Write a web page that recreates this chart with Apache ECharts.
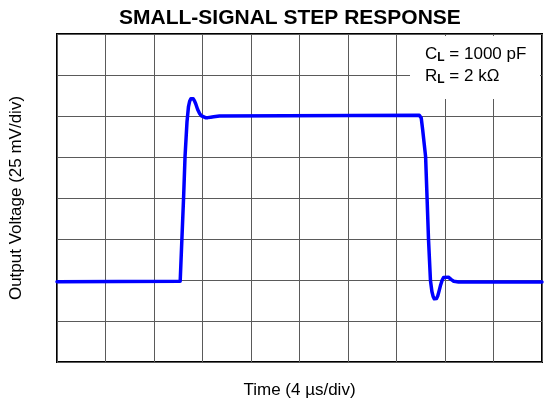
<!DOCTYPE html>
<html lang="en">
<head>
  <meta charset="UTF-8">
  <title>Small-signal step response</title>
  <script src="https://fastly.jsdelivr.net/npm/echarts@6/dist/echarts.min.js"></script>
  <style>
    html, body { margin: 0; padding: 0; background: #fff; }
  </style>
</head>
<body>
<div id="step_plot" style="width: 544px;height:404px;"></div>
<script type="text/javascript">
  // time in divisions (4 us/div), voltage in divisions (25 mV/div)
  var timeDiv = [0, 2.54, 2.575, 2.61, 2.64, 2.68, 2.71, 2.735, 2.76, 2.785, 2.81, 2.835, 2.86, 2.90, 2.94, 2.97, 3.01, 3.06, 3.11, 3.17, 3.23, 3.35,
                 7.47, 7.51, 7.54, 7.60, 7.63, 7.66, 7.70, 7.73, 7.755, 7.78, 7.80, 7.825, 7.85, 7.88, 7.91, 7.94, 7.97, 8.01, 8.07, 8.13, 8.18, 8.28, 10];
  var voltDiv = [1.96, 1.97, 2.99, 4.01, 5.01, 5.85, 6.22, 6.36, 6.42, 6.44, 6.42, 6.37, 6.30, 6.16, 6.06, 6.01, 5.975, 5.96, 5.96, 5.97, 5.98, 6.0,
                 6.02, 5.95, 5.66, 5.01, 4.01, 2.99, 1.99, 1.72, 1.60, 1.54, 1.53, 1.55, 1.61, 1.74, 1.88, 1.99, 2.06, 2.09, 2.07, 2.01, 1.97, 1.95, 1.95];

  var titleText = 'SMALL-SIGNAL STEP RESPONSE';
  var xLabel = 'Time (4 \u00b5s/div)';
  var yLabel = 'Output Voltage (25 mV/div)';
  var noteLines = [['C', 'L', ' = 1000 pF'], ['R', 'L', ' = 2 k\u03a9']];

  var data = timeDiv.map(function(t, i) { return [t, voltDiv[i]]; });

  var myChart = echarts.init(document.getElementById('step_plot'));

  var font = 'Liberation Sans, Arial, sans-serif';

  var option = {
    animation: false,
    backgroundColor: '#fff',
    title: {
      text: titleText,
      left: 114,
      top: 3,
      textStyle: { fontFamily: font, fontSize: 21, fontWeight: 'bold', color: '#000' }
    },
    grid: {
      left: 57,
      top: 34,
      width: 485,
      height: 328,
      outerBoundsMode: 'none',
      containLabel: false,
      show: true,
      borderColor: '#000',
      borderWidth: 2,
      backgroundColor: 'transparent'
    },
    xAxis: {
      type: 'value',
      min: 0,
      max: 10,
      interval: 1,
      name: xLabel,
      nameLocation: 'middle',
      nameGap: 20,
      nameTextStyle: { fontFamily: font, fontSize: 17, color: '#000' },
      axisLine: { show: false },
      axisTick: { show: false },
      axisLabel: { show: false },
      splitLine: { show: true, lineStyle: { color: '#5a5a5a', width: 1 } }
    },
    yAxis: {
      type: 'value',
      min: 0,
      max: 8,
      interval: 1,
      name: yLabel,
      nameLocation: 'middle',
      nameGap: 32,
      nameTextStyle: { fontFamily: font, fontSize: 17, color: '#000' },
      axisLine: { show: false },
      axisTick: { show: false },
      axisLabel: { show: false },
      splitLine: { show: true, lineStyle: { color: '#5a5a5a', width: 1 } }
    },
    series: [
      {
        type: 'line',
        data: data,
        showSymbol: false,
        smooth: false,
        lineStyle: { color: '#0000ff', width: 3.5, join: 'round', cap: 'round' },
        z: 5
      }
    ],
    graphic: [
      {
        type: 'rect',
        left: 410,
        top: 36,
        shape: { width: 130, height: 63 },
        style: { fill: '#fff' },
        z: 10
      },
      {
        type: 'text',
        left: 425,
        top: 44,
        z: 11,
        style: {
          text: noteLines.map(function(l) { return '{m|' + l[0] + '}{s|' + l[1] + '}{m|' + l[2] + '}'; }).join('\n'),
          rich: {
            m: { fontFamily: font, fontSize: 17, lineHeight: 22, fill: '#000' },
            s: { fontFamily: font, fontSize: 12, fontWeight: 'bold', lineHeight: 22, fill: '#000', padding: [8, 0, 0, 0] }
          }
        }
      }
    ]
  };

  myChart.setOption(option);
</script>
</body>
</html>
